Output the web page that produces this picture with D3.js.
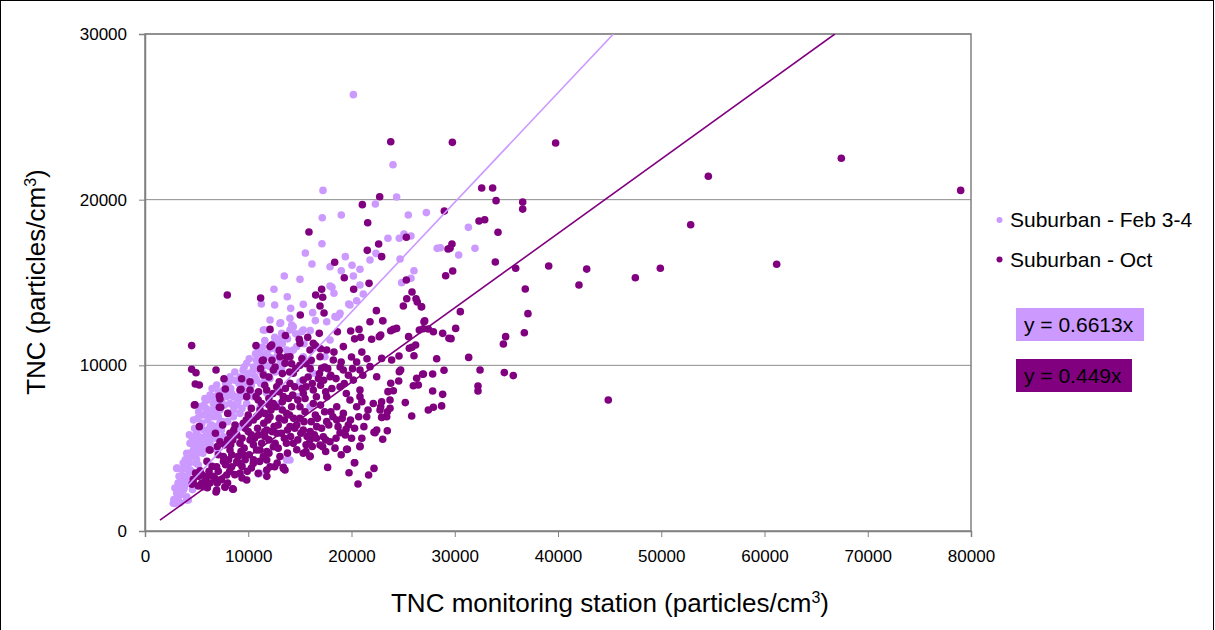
<!DOCTYPE html>
<html>
<head>
<meta charset="utf-8">
<script src="https://cdn.jsdelivr.net/npm/d3@7"></script>
<style>
  html, body { margin: 0; padding: 0; background: #fff; }
  svg text { font-family: Arial, "Liberation Sans", sans-serif; fill: #000; }
</style>
</head>
<body>
<div id="chart"></div>
<script>
// values (x = station TNC, y = TNC)
const febPoints = [
  [20180,26340],[24020,22110],[17240,20560],[24370,20160],[22310,19740],[19010,19070],[17170,18910],[25500,19070],
  [27250,19220],[31320,18330],[17140,17340],[23530,17670],[24630,17670],[25080,17930],[25760,17810],[28300,17060],
  [28600,17100],[31960,17070],[30380,16660],[15530,16780],[22370,16760],[16170,16120],[19400,16560],[17920,15950],
  [19010,15710],[20050,16040],[20820,15800],[21790,16360],[24700,16420],[26050,15710],[13490,15390],[15010,15190],
  [20180,15390],[25760,15250],[18110,14710],[12490,14590],[11270,13700],[12560,13640],[14110,13440],[15330,13680],
  [16240,13180],[18570,12900],[19730,13700],[20500,13900],[21140,14310],[23080,12680],[13780,14140],[13140,12570],
  [14210,12430],[11620,12130],[12560,11690],[13070,11570],[14040,12130],[15180,12030],[17920,14790],[18300,14350],
  [20820,14850],[19850,13640],[18810,13040],[24860,14990],
  [11140,9680],[9850,9310],[10650,9310],[11790,9310],[15980,10120],[15330,10520],[14360,10930],[12910,11130],
  [16630,11130],[17430,10520],[17920,11530],[11140,10930],[12270,10420],[13240,9820],[15010,9010],[16300,9520],
  [5970,7100],[5490,6500],[5000,5900],[6460,6300],[7260,7300],[8230,7700],[8880,8110],[9520,8510],[9850,9110],
  [10810,9110],[11460,9520],[12110,9920],[9850,10120],[8230,9310],[7590,8510],[8550,6900],[7260,6300],[6300,5290],
  [6940,4890],[7590,5690],[9200,6300],[8550,8110],[10490,8110],[11140,7500],[6620,7700],[5810,5690],[4520,4490],
  [4200,3680],[3710,3280],[3550,2880],[4040,2070],[3330,2470],[12760,10520],[13720,10930],[14690,11130],[13240,11930],
  [14360,12330],[15330,12130],[12760,11530],[10170,9520],[6300,8110],[5330,7500],[4360,5290],[3870,3880],[2910,1670],
  [13070,12530],[14040,12840],[12110,12740],[11460,12130],[10810,11130],[11790,10730],[17600,12630],[18400,12940],
  [18890,13140],[3070,3780],[4360,3680],[3870,3180],[3390,2780],[3070,2280],[2740,1670],[4040,1870],[4290,4690],
  [4680,5290],[5170,5730],[5970,5990],[6460,6400],[7260,6540],[6130,4990],[4840,4490],[5170,3980],[5970,3080],
  [7260,7700],[6940,7200],[6300,8210],[8880,8010],[9850,7700],[9200,7100],[3100,3800],[4040,4690],[5170,5690],
  [5260,6300],[3220,1870],[3710,2470],[4190,1870],[6940,8810],[6620,8110],[7200,7870],[6680,6900],[5880,7410],
  [5980,7100],[5330,6300],[4420,5290],[4840,5690],[5390,5190],[6300,5600],[7000,5690],[13720,4290],[10970,3440],
  [14040,4290],[11140,3480],[14690,8110],[15980,7500],[11790,8310],[13070,7700],
  [3300,3300],[3600,3700],[3900,4300],[4100,3300],[4300,4100],[4500,3600],[4700,4900],[4900,4100],[5100,4700],
  [5300,5500],[5500,4900],[5700,6100],[5900,5300],[6100,6700],[6300,6300],[6500,5900],[6700,7400],[6900,6300],
  [7100,6900],[7300,8200],[7500,6600],[7700,7600],[7900,8100],[8100,7100],[8300,8600],[8500,7600],[8700,9100],
  [8900,7600],[9100,8900],[9300,8100],[9500,9700],[9700,8900],[9900,9500],[10100,10400],[10300,8800],[10500,9900],
  [10700,10700],[10900,9800],[11100,10200],[11400,11100],[11700,10000],[12000,10500],[12400,11300],[12800,10900],
  [13300,11300],[13800,11600],[2900,2600],[3200,2900],[3500,2200],[3800,2600],[4100,2900],[4400,3000],[4600,2500],
  [2800,1900],[3400,1700],[5600,7000],[5100,6800],[4800,6200],[4600,5500],[5800,8000],[6500,8600],[7800,8900],
  [6900,8000],[6200,7300],[5500,6500],[4900,5000],[4200,4500],[3700,4100],[14600,11900],[15400,11300],[16000,12100],
  [16500,12700],
  [4300,5800],[4700,6700],[5200,7200],[5700,7600],[6000,7900],[6400,7100],[6800,7700],[7100,8400],[7400,7900],
  [7800,8200],[8100,9000],[8400,8300],[8700,9600],[9200,9300],[9600,9900],[10000,9000],[10400,9600],[10800,10300],
  [11200,10600],[11600,11500],[12200,11000],[8000,6600],[8600,7300],[9000,7800],[9400,7400],[9800,8300],[10200,8500],
  [10700,8300],[11200,8900],[11600,9200],[12100,9200],[12600,9600],[13100,10200],[13600,10400],[14100,10800],
  [7400,6100],[6800,5600],[6200,5000],[5600,4700],[5000,4300]
];

const octPoints = [
  [79000,20560],[67440,22500],[61180,16100],[54560,21410],[52850,18490],[49910,15860],[47490,15290],[44870,7910],
  [42780,15810],[42030,14850],[39770,23420],[39100,16000],[37090,13120],[36830,14610],[36740,11970],[36580,19860],
  [36580,19430],[35900,15860],[35670,9380],[34800,9560],[33930,16240],[34190,18030],[34000,19940],[34930,11730],
  [34710,11290],[33670,20700],[32610,20700],[32900,18790],[32350,18710],[32450,9720],[32250,8750],[32250,8450],
  [31350,10480],[30540,13240],[30090,12230],[29770,23460],[29800,15690],[29540,17060],[29730,17320],[29350,17020],
  [29120,15410],[28990,19310],[28960,9700],[28830,11930],[29440,11630],[29640,11610],[28250,10400],[28830,8250],
  [28730,7550],[27930,12030],[27440,12190],[27020,12630],[26790,13540],[27860,9480],[26960,9480],[27860,8450],
  [27930,7470],[27440,7300],[23800,23500],[22730,20180],[21050,19700],[21570,18610],[15880,18050],[22630,17320],
  [25310,17730],[21530,16940],[22920,16560],[18370,16220],[19300,15290],[25310,15150],[7970,14250],[11200,14060],
  [17110,14590],[16530,14250],[17210,14110],[20210,14590],[21700,14950],[15040,13040],[16950,13580],[17340,13160],
  [25860,14430],[25350,14020],[26250,14020],[26370,13820],[25020,13580],[26760,13540],[22410,13300],[21790,12630],
  [19920,12070],[20730,12170],[20890,11690],[21950,11570],[22690,11730],[22830,11830],[23800,12090],[24050,12170],
  [24370,12230],[25530,11730],[26570,12130],[26960,12210],[27090,12690],[25600,11030],[25860,11090],[26050,10580],
  [25210,7750],[25830,6940],[26310,9220],[26470,8810],[25990,8770],[26890,9460],[24630,9620],[24760,9720],
  [24570,9050],[24050,8470],[23530,8410],[23730,7910],[23410,6900],[22950,6860],[22830,7500],[22440,6100],
  [22180,5960],[23470,6050],[23020,5540],[20820,5090],[19600,4930],[20310,4120],[22180,3780],[21660,3380],
  [19760,3520],[20630,2840],[17690,3840],[15980,4530],[15590,4790],[17210,5090],[13400,3850],[13560,3680],
  [12560,3880],[8490,2540],[7750,2640],[6880,2350],[6040,2610],[5490,2880],[5170,2720],[4550,2820],[4680,3120],
  [4520,11190],[4520,9760],[4940,9550],[4870,8870],[5260,8810],[4840,7620],[5260,6300],[6880,9720],[7650,9190],
  [7780,8570],[6300,4890],[8010,7100],[7200,7470],[7260,7970],[10750,11190],[12110,12170],[12270,11230],[11360,10280],
  [9360,9190],[10170,8510],[10750,8110],[9300,8550],[26210,11230],[24600,10560],[23890,10320],[22920,10420],
  [23800,8920],[11460,9420],[10170,9010],[9200,8510],[18630,12030],[23020,12690],[15760,11690],[16880,11930],
  [16300,11330],[14940,11570],
  [4780,7610],[6230,4890],[7200,8150],[7330,7470],[6820,5900],[7260,5390],[7520,6400],[5330,3640],[4680,2880],
  [5650,2670],[6940,2470],[7750,2670],[8550,2520],[6780,3180],[7910,3380],[9200,3480],[9850,3080],[10970,3480],
  [8880,4180],[8230,4890],[9200,5290],[10170,5490],[8230,5900],[8720,6400],[9520,6500],[10490,6700],[11140,7300],
  [9850,8110],[10970,7910],[11790,6100],[11460,4490],[10490,4090],[9520,4590],[8390,3880],[11790,3680],[10810,4890],
  [7590,4490],[6940,3880],[5970,3280],
  [12110,3880],[13400,3780],[15330,4690],[15980,4490],[19530,4930],[20820,5130],[20280,4120],[22280,5930],
  [19470,6140],[18890,5930],[19690,6400],[17920,5390],[16950,5190],[17270,5690],[15980,5490],[14360,5290],
  [13070,4490],[11790,4290],[12430,5090],[11140,4890],[18570,6700],[17600,6600],[16630,6300],[15330,6100],
  [14040,6300],[12760,5900],[11620,5690],[18570,7500],[19210,7100],[19850,7910],[20500,7500],[20820,8110],
  [22110,7700],[22760,7300],[21470,6900],[17600,8110],[16300,7700],[15010,7500],[13720,7100],[12110,6900],
  [12430,7700],[13400,8110],[15330,8310],[22920,7800],[23730,7410],[23470,7200],[22920,6860],
  [12110,11130],[13070,10520],[11460,10320],[12430,9720],[13560,10120],[14360,9520],[15330,9110],[14040,8910],
  [12760,8710],[11790,8510],[15980,10930],[16950,10520],[17600,10930],[18240,10320],[19210,11130],[17110,9820],
  [17920,9310],[19210,9720],[20180,9110],[20820,9720],[21790,9920],[22440,9310],[18890,8710],[16300,8510],
  [20820,8510],[15010,11330],[14040,10520],
  [9000,4500],[9600,5000],[10000,6000],[10500,5200],[11000,5800],[11500,6500],[12000,5500],[12500,6300],
  [13000,6800],[13500,5600],[14000,7000],[14500,6200],[15000,6800],[15500,7200],[16000,6000],[16500,7000],
  [17000,7600],[17500,8400],[18000,7200],[8500,5500],[10000,7000],[11000,8400],
  [12000,8000],[13000,9000],[14000,9600],[15000,10000],[16000,9800],[17000,8800],[18000,9400],[19000,10200],
  [20000,10500],[21000,10800],[19500,8300],[21000,7800],[10500,4300],[11800,4800],[12800,4100],[13800,4700],
  [14800,5500],[16200,5100],[17500,4800],[18500,5600],[7600,4200],[8200,3600],[9400,3900],[6500,3900],
  [6000,4200],[5500,3400],[7000,5100],[9800,6700],[10800,6900],[12200,7300],[13300,7800],
  [14300,8200],[15600,8700],[16800,9200],[18300,10800],[20300,11600],[13600,11800],
  [5800,3000],[6200,3600],[6600,3300],[7100,3600],[7400,3100],[7800,4000],[8100,4300],[8400,4600],[8700,3400],
  [9100,4100],[9300,4800],[9700,4300],[10100,4600],[10300,5800],[10600,5600],[10900,6200],[11300,5300],[11600,6000],
  [11900,6700],[12300,6000],[12600,5300],[12900,6400],[13200,5900],[13500,6700],[13800,6100],[14100,5700],[14400,6800],
  [14700,6400],[15100,5900],[15400,6600],[15700,5700],[16100,6600],[16400,5800],[16700,6800],[17100,6200],[17400,7200],
  [17800,6400],[18200,6900],[18700,6300],[19100,6800],[19400,5800],[19900,6700],[20300,6200],[20700,6900],[21200,6300],
  [21600,7300],[8300,5200],[8600,6100],[8900,5800],[9400,5600],[9700,6200],[10000,6500],[10300,7400],
  [11000,7000],[11300,7700],[11600,7100],[12000,7600],[12400,8300],[12700,7500],[13000,8400],[13300,7300],
  [13600,8600],[13900,8000],[14200,7500],[14500,8700],[14800,7900],[15200,8600],[15500,8000],[15800,9300],[16200,8900],
  [16600,8100],[16900,9500],[17300,9100],[17700,9800],[18100,8600],[18500,9200],[18900,9900],[19300,8900],[19700,9400],
  [20100,9800],[20500,10200],[21100,9400],[21500,10400],[7100,4600],[7700,5200],
  [8000,5500],[11200,9800],[11600,8800],[12000,9300],[12300,10300],[12600,9900],[13000,10900],[13300,9500],[13700,10500],
  [14200,10100],[14600,9800],[15200,10400],[15600,10100],[16100,10300],[16500,11200],[17000,11000],[17400,9900],
  [5200,3300],[4900,3500],[6300,2900],[7000,2900],[8000,2900],[9400,3200],[10300,3800],[11100,4200],[12000,4700],
  [12900,5000],[13700,5300],[14700,4900],[15600,5200],[16600,5600],[17500,5500],[18400,5000],[19000,4600],[20000,5600],
  [21000,5600],[11800,3300],[9900,3600]
];

const xTicks = [0, 10000, 20000, 30000, 40000, 50000, 60000, 70000, 80000];
const yTicks = [0, 10000, 20000, 30000];
const seriesNames = ['Suburban - Feb 3-4', 'Suburban - Oct'];
const slopes = [0.6613, 0.449];
const trendStart = [2500, 1450];
const equations = ['y = 0.6613x', 'y = 0.449x'];
const colors = ['#CC99FF', '#800080'];

const width = 1215, height = 630;
const m = { l: 145, t: 34, r: 971, b: 531 };

const svg = d3.select('#chart').append('svg')
  .attr('width', width).attr('height', height);

svg.append('rect').attr('x', 0.5).attr('y', 0.5).attr('width', 1213).attr('height', 660)
  .attr('fill', '#fff').attr('stroke', '#000');

const x = d3.scaleLinear().domain([0, 80000]).range([m.l, m.r]);
const y = d3.scaleLinear().domain([0, 30000]).range([m.b, m.t]);

// gridlines
svg.append('g').selectAll('line').data(yTicks.slice(1)).join('line')
  .attr('x1', m.l).attr('x2', m.r).attr('y1', d => y(d)).attr('y2', d => y(d))
  .attr('stroke', '#8c8c8c').attr('stroke-width', 1);

// plot frame
svg.append('rect').attr('x', m.l).attr('y', m.t).attr('width', m.r - m.l).attr('height', m.b - m.t)
  .attr('fill', 'none').attr('stroke', '#808080').attr('stroke-width', 1.5);

const xAxis = svg.append('g').attr('transform', `translate(0,${m.b})`)
  .call(d3.axisBottom(x).tickValues(xTicks).tickFormat(d3.format('d')).tickSize(6).tickPadding(13));
const yAxis = svg.append('g').attr('transform', `translate(${m.l},0)`)
  .call(d3.axisLeft(y).tickValues(yTicks).tickFormat(d3.format('d')).tickSize(6).tickPadding(12));
[xAxis, yAxis].forEach(g => {
  g.select('.domain').attr('stroke', '#808080').attr('stroke-width', 1.5);
  g.selectAll('.tick line').attr('stroke', '#808080');
  g.selectAll('.tick text').attr('font-size', 17).attr('font-family', 'Arial, "Liberation Sans", sans-serif').attr('fill', '#000');
});

const plot = svg.append('g');
svg.append('clipPath').attr('id', 'clip').append('rect')
  .attr('x', m.l).attr('y', m.t).attr('width', m.r - m.l).attr('height', m.b - m.t);

[febPoints, octPoints].forEach((pts, i) => {
  plot.append('g').selectAll('circle').data(pts).join('circle')
    .attr('cx', d => x(d[0])).attr('cy', d => y(d[1])).attr('r', 3.8)
    .attr('fill', colors[i]);
});

// linear trendlines through origin
slopes.forEach((s, i) => {
  const x1 = 30000 / s;
  plot.append('line')
    .attr('clip-path', 'url(#clip)')
    .attr('x1', x(trendStart[i])).attr('y1', y(trendStart[i] * s))
    .attr('x2', x(x1)).attr('y2', y(30000))
    .attr('stroke', colors[i]).attr('stroke-width', 1.6);
});

// axis titles
svg.append('text').attr('x', 610).attr('y', 612).attr('text-anchor', 'middle').attr('font-size', 26)
  .html('TNC monitoring station (particles/cm<tspan dy="-9" font-size="16">3</tspan><tspan dy="9">)</tspan>');
svg.append('text').attr('transform', 'translate(45,282) rotate(-90)').attr('text-anchor', 'middle').attr('font-size', 26)
  .html('TNC (particles/cm<tspan dy="-9" font-size="16">3</tspan><tspan dy="9">)</tspan>');

// legend
const leg = svg.append('g');
seriesNames.forEach((name, i) => {
  const ly = 220 + i * 39.5;
  leg.append('circle').attr('cx', 999.5).attr('cy', ly).attr('r', 3).attr('fill', colors[i]);
  leg.append('text').attr('x', 1010).attr('y', ly + 7).attr('font-size', 21).text(name);
});

// equation labels
const boxW = [128, 116];
equations.forEach((eq, i) => {
  const by = 308 + i * 51;
  svg.append('rect').attr('x', 1016).attr('y', by).attr('width', boxW[i]).attr('height', 33).attr('fill', colors[i]);
  svg.append('text').attr('x', 1024).attr('y', by + 24).attr('font-size', 21).text(eq);
});
</script>
</body>
</html>
